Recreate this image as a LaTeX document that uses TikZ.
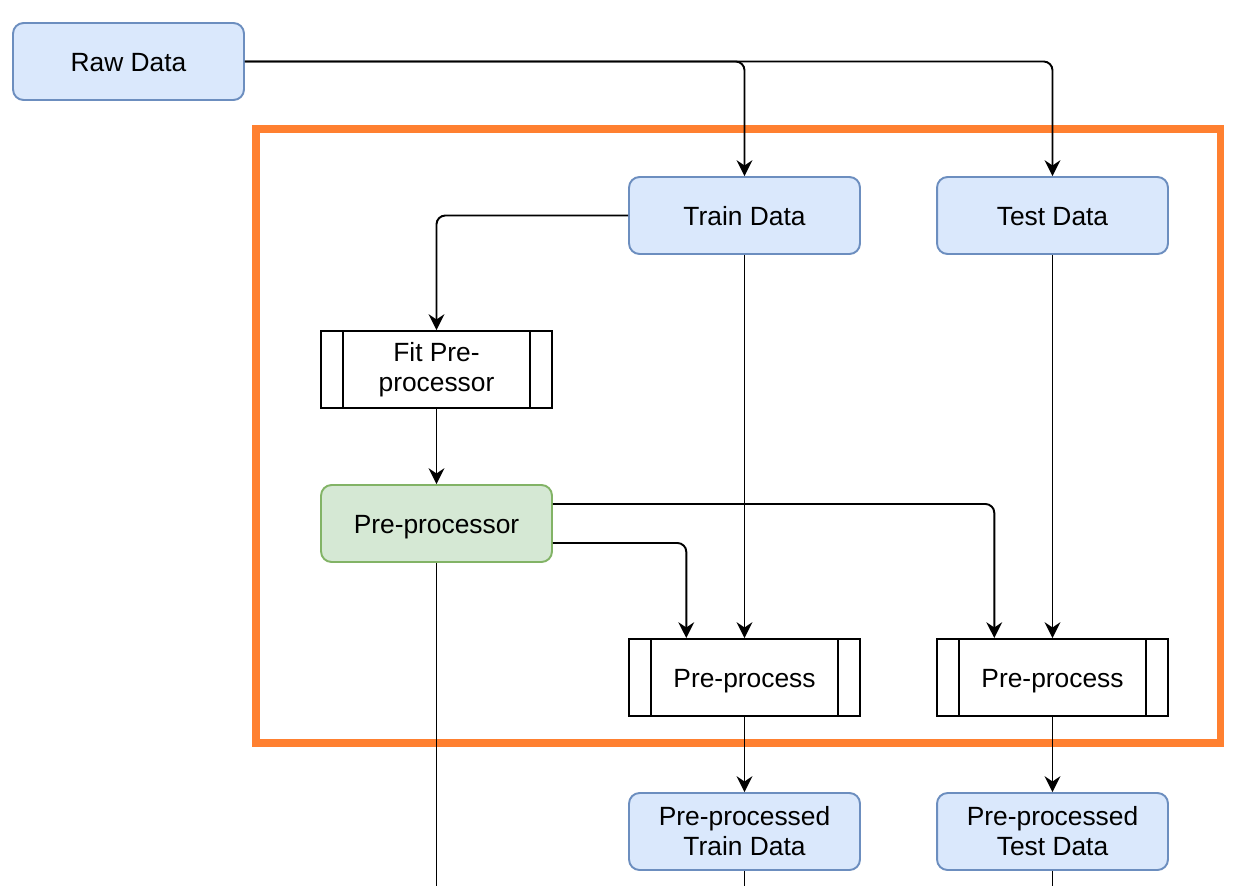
\documentclass[tikz,border=0pt]{standalone}
\usepackage{fontspec}
\setmainfont{Liberation Sans}
\usetikzlibrary{arrows.meta,calc,positioning}

\definecolor{datenblau}{HTML}{DAE8FC}
\definecolor{randblau}{HTML}{6C8EBF}
\definecolor{datengruen}{HTML}{D5E8D4}
\definecolor{randgruen}{HTML}{82B366}
\definecolor{rahmenorange}{HTML}{FF8030}

\tikzset{
	kasten/.style={minimum width=4.62cm, minimum height=1.54cm, inner sep=0pt, align=center,
		font=\fontsize{15}{17}\selectfont, line width=1.1pt},
	einzeilig/.style={text height=14pt, text depth=3pt},
	daten/.style={kasten, draw=randblau, fill=datenblau, rounded corners=6pt},
	modell/.style={kasten, draw=randgruen, fill=datengruen, rounded corners=6pt},
	prozess/.style={kasten, draw=black, fill=white},
	pfeil/.style={draw, line width=1.1pt, rounded corners=5pt,
		-{Stealth[length=9pt, width=9pt, inset=3pt]}},
	linie/.style={draw, line width=1.1pt}
}

\begin{document}
\begin{tikzpicture}[x=0.02cm, y=-0.02cm]

		%Rahmen des Bildes
		\useasboundingbox (0,0) rectangle (1234,886);

		%Oranger Rahmen
		\draw [rahmenorange, line width=4pt] (256,129) rectangle (1220,743);

		%Datenknoten
		\node [daten, einzeilig] (roh) at (128.5,61.5) {Raw Data};
		\node [daten, einzeilig] (train) at (744.5,215.5) {Train Data};
		\node [daten, einzeilig] (test) at (1052.5,215.5) {Test Data};
		\node [daten] (vtrain) at (744.5,831.5) {\raisebox{-1.2pt}{Pre-processed}\\\raisebox{-1.2pt}{Train Data}};
		\node [daten] (vtest) at (1052.5,831.5) {\raisebox{-1.2pt}{Pre-processed}\\\raisebox{-1.2pt}{Test Data}};

		%Prozesse
		\node [prozess] (fit) at (436.5,369.5) {\raisebox{-2pt}{Fit Pre-}\\\raisebox{-2pt}{processor}};
		\node [prozess, einzeilig] (pp1) at (744.5,677.5) {Pre-process};
		\node [prozess, einzeilig] (pp2) at (1052.5,677.5) {Pre-process};
		\foreach \n in {fit,pp1,pp2} {
			\draw [line width=1.1pt] ($(\n.north west)+(22.5,0)$) -- ($(\n.south west)+(22.5,0)$);
			\draw [line width=1.1pt] ($(\n.north east)+(-22.5,0)$) -- ($(\n.south east)+(-22.5,0)$);
		}

		%Modell
		\node [modell, einzeilig] (vp) at (436.5,523.5) {Pre-processor};

		%Freie Enden unten
		\coordinate (endeVP) at (436.5,886);
		\coordinate (endeTrain) at (744.5,886);
		\coordinate (endeTest) at (1052.5,886);

		%Verbindungen
		\path [pfeil] (roh.east) -| (train.north);
		\path [pfeil] (roh.east) -| (test.north);
		\path [pfeil] (train.west) -| (fit.north);
		\path [pfeil] (fit.south) -- (vp.north);
		\path [pfeil] (train.south) -- (pp1.north);
		\path [pfeil] (test.south) -- (pp2.north);
		\path [pfeil] ($(vp.east)+(0,-19.5)$) -| ($(pp2.north west)!0.5!(pp2.north)$);
		\path [pfeil] ($(vp.east)+(0,19.5)$) -| ($(pp1.north west)!0.5!(pp1.north)$);
		\path [pfeil] (pp1.south) -- (vtrain.north);
		\path [pfeil] (pp2.south) -- (vtest.north);
		\path [linie] (vp.south) -- (endeVP);
		\path [linie] (vtrain.south) -- (endeTrain);
		\path [linie] (vtest.south) -- (endeTest);

\end{tikzpicture}
\end{document}
